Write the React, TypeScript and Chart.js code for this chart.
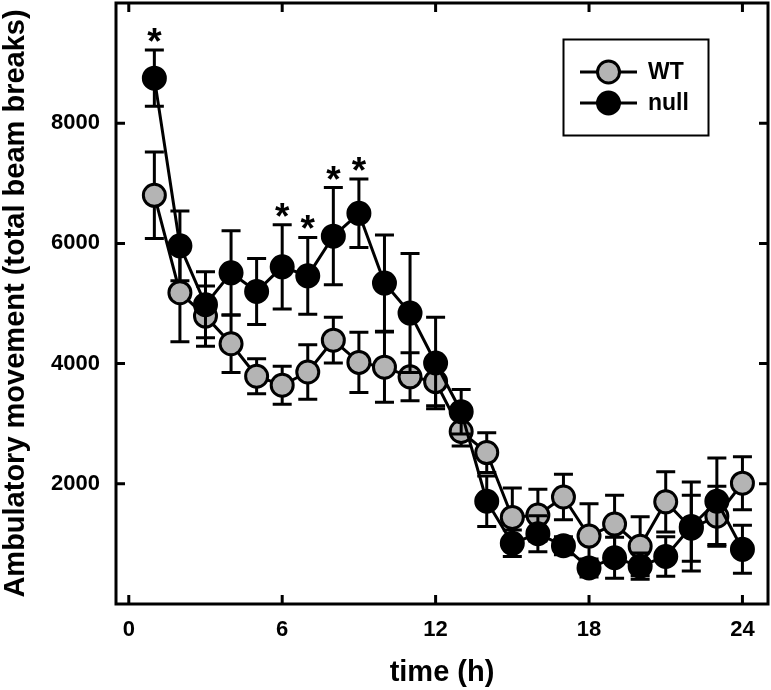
import React, { useEffect, useRef } from "react";
import { Chart, registerables } from "chart.js";

Chart.register(...registerables);

// ---- data ----
const hours = [1, 2, 3, 4, 5, 6, 7, 8, 9, 10, 11, 12, 13, 14, 15, 16, 17, 18, 19, 20, 21, 22, 23, 24];
const wtMean = [6800, 5180, 4790, 4330, 3790, 3640, 3860, 4390, 4020, 3940, 3780, 3700, 2870, 2520, 1440, 1480, 1780, 1130, 1330, 960, 1700, 1260, 1460, 2010];
const wtErr = [720, 815, 500, 480, 290, 315, 455, 380, 500, 585, 400, 400, 240, 330, 490, 430, 380, 540, 480, 490, 500, 550, 500, 440];
const nullMean = [8750, 5960, 4980, 5510, 5200, 5610, 5460, 6120, 6500, 5340, 4840, 4010, 3200, 1710, 1010, 1170, 970, 600, 770, 630, 790, 1290, 1710, 910];
const nullErr = [470, 580, 550, 700, 550, 700, 640, 810, 570, 800, 990, 760, 370, 420, 220, 300, 150, 150, 340, 220, 330, 740, 720, 400];
const sigHours = [1, 6, 7, 8, 9];
const xTickValues = [0, 6, 12, 18, 24];
const yTickValues = [2000, 4000, 6000, 8000];
const seriesLabels = ["WT", "null"];
const xTitle = "time (h)";
const yTitle = "Ambulatory movement (total beam breaks)";

const FONT = '"Liberation Sans", Arial, Helvetica, sans-serif';
const GRAY = "#b4b4b4";

export default function App() {
  const ref = useRef<HTMLCanvasElement>(null);

  useEffect(() => {
    document.body.style.margin = "0";
    const canvas = ref.current!;

    const errorBars = {
      id: "errorBars",
      beforeDatasetDraw(chart: any, args: any) {
        const ds = chart.data.datasets[args.index];
        const errs: number[] = ds.errors;
        if (!errs) return;
        const ys = chart.scales.y;
        const c = chart.ctx;
        c.save();
        c.strokeStyle = "#000";
        c.lineWidth = 3;
        c.lineCap = "butt";
        args.meta.data.forEach((pt: any, i: number) => {
          const v = ds.data[i].y;
          const top = ys.getPixelForValue(v + errs[i]);
          const bot = ys.getPixelForValue(v - errs[i]);
          const x = pt.x;
          c.beginPath();
          c.moveTo(x, top);
          c.lineTo(x, bot);
          c.moveTo(x - 9.5, top);
          c.lineTo(x + 9.5, top);
          c.moveTo(x - 9.5, bot);
          c.lineTo(x + 9.5, bot);
          c.stroke();
        });
        c.restore();
      },
    };

    const frame = {
      id: "frame",
      afterDatasetsDraw(chart: any) {
        const c = chart.ctx;
        const { left, right, top, bottom } = chart.chartArea;
        const xs = chart.scales.x;
        const ys = chart.scales.y;
        c.save();
        c.strokeStyle = "#000";
        c.lineWidth = 3;
        c.strokeRect(left, top, right - left, bottom - top);
        const tl = 9;
        c.beginPath();
        xTickValues.forEach((v) => {
          const px = xs.getPixelForValue(v);
          c.moveTo(px, bottom);
          c.lineTo(px, bottom - tl);
          c.moveTo(px, top);
          c.lineTo(px, top + tl);
        });
        yTickValues.forEach((v) => {
          const py = ys.getPixelForValue(v);
          c.moveTo(left, py);
          c.lineTo(left + tl, py);
          c.moveTo(right, py);
          c.lineTo(right - tl, py);
        });
        c.stroke();

        // significance asterisks above null series
        const nullDs = chart.data.datasets[1];
        c.fillStyle = "#000";
        c.font = `bold 37px ${FONT}`;
        c.textAlign = "center";
        c.textBaseline = "alphabetic";
        sigHours.forEach((h) => {
          const i = hours.indexOf(h);
          const v = nullDs.data[i].y + nullDs.errors[i];
          const px = xs.getPixelForValue(h);
          const py = ys.getPixelForValue(v);
          c.fillText("*", px, py + 4);
        });
        c.restore();
      },
    };

    const customLegend = {
      id: "customLegend",
      afterDraw(chart: any) {
        const c = chart.ctx;
        c.save();
        c.strokeStyle = "#000";
        c.lineWidth = 2;
        c.strokeRect(563.5, 39.5, 145, 96);
        const rows = [72, 103];
        chart.data.datasets.forEach((ds: any, i: number) => {
          const y = rows[i];
          c.lineWidth = 3;
          c.beginPath();
          c.moveTo(580, y);
          c.lineTo(637, y);
          c.stroke();
          c.beginPath();
          c.arc(608.5, y, 11, 0, Math.PI * 2);
          c.fillStyle = ds.pointBackgroundColor;
          c.fill();
          c.lineWidth = 3;
          c.stroke();
          c.fillStyle = "#000";
          c.font = `bold 23px ${FONT}`;
          c.textAlign = "left";
          c.textBaseline = "middle";
          c.fillText(ds.label, 648, y + 1);
        });
        c.restore();
      },
    };

    const mk = (means: number[]) => means.map((m, i) => ({ x: hours[i], y: m }));
    const zeroPad = (s: any) => {
      s.paddingTop = 0;
      s.paddingBottom = 0;
      s.paddingLeft = 0;
      s.paddingRight = 0;
    };

    const chart = new Chart(canvas, {
      type: "line",
      data: {
        datasets: [
          {
            label: seriesLabels[0],
            data: mk(wtMean),
            errors: wtErr,
            borderColor: "#000",
            borderWidth: 3,
            pointRadius: 11,
            pointBorderWidth: 3,
            pointBackgroundColor: GRAY,
            pointBorderColor: "#000",
            order: 1,
          } as any,
          {
            label: seriesLabels[1],
            data: mk(nullMean),
            errors: nullErr,
            borderColor: "#000",
            borderWidth: 3,
            pointRadius: 11,
            pointBorderWidth: 3,
            pointBackgroundColor: "#000",
            pointBorderColor: "#000",
            order: 0,
          } as any,
        ],
      },
      options: {
        responsive: false,
        animation: false,
        devicePixelRatio: 1,
        layout: { autoPadding: false, padding: { top: 3, right: 3, left: 0, bottom: 0 } },
        plugins: { legend: { display: false }, tooltip: { enabled: false } },
        scales: {
          x: {
            type: "linear",
            min: -0.5,
            max: 25,
            afterBuildTicks: (s: any) => {
              s.ticks = xTickValues.map((v) => ({ value: v }));
            },
            afterFit: (s: any) => {
              s.height = 86;
              zeroPad(s);
            },
            grid: { display: false, drawTicks: false },
            border: { display: false },
            ticks: {
              padding: 13,
              color: "#000",
              font: { family: FONT, size: 22, weight: "bold" },
              maxRotation: 0,
              autoSkip: false,
              callback: (v: any) => String(v),
            },
            title: {
              display: true,
              text: xTitle,
              color: "#000",
              font: { family: FONT, size: 29, weight: "bold", lineHeight: 1.2 },
              padding: { top: 0, bottom: 0 },
            },
          },
          y: {
            type: "linear",
            min: 0,
            max: 10000,
            afterBuildTicks: (s: any) => {
              s.ticks = yTickValues.map((v) => ({ value: v }));
            },
            afterFit: (s: any) => {
              s.width = 116;
              zeroPad(s);
            },
            grid: { display: false, drawTicks: false },
            border: { display: false },
            ticks: {
              padding: 16,
              color: "#000",
              font: { family: FONT, size: 22, weight: "bold" },
              autoSkip: false,
              callback: (v: any) => String(v),
            },
            title: {
              display: true,
              text: yTitle,
              color: "#000",
              font: { family: FONT, size: 29, weight: "bold", lineHeight: 1.1 },
              padding: { top: 0, bottom: 0 },
            },
          },
        },
      } as any,
      plugins: [errorBars, frame, customLegend],
    });

    return () => chart.destroy();
  }, []);

  return <canvas ref={ref} width={771} height={690} style={{ display: "block" }} />;
}
